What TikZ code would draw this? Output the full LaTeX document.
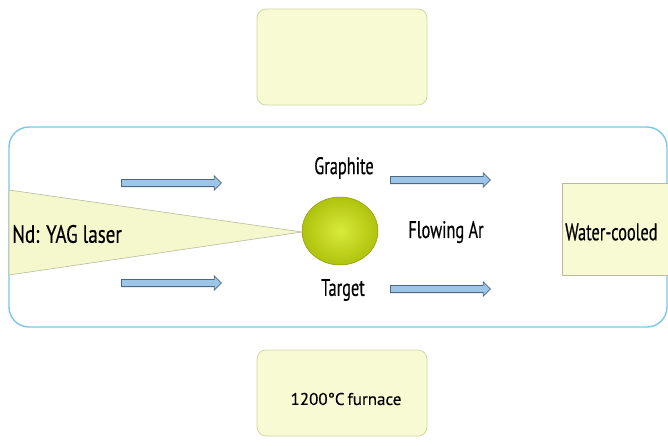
\documentclass[tikz,border=0pt]{standalone}
\usepackage{fontspec}
\setmainfont{PT Sans}
\newfontfamily\lblfont[FakeStretch=0.68,FakeBold=0.4]{PT Sans}
\newfontfamily\laserfont[FakeStretch=0.76,FakeBold=0.4]{PT Sans}
\newfontfamily\furnfont[FakeBold=0.3]{PT Sans}
\usetikzlibrary{shapes.geometric,shapes.arrows}
\definecolor{boxfill}{HTML}{F7FAD2}
\definecolor{boxedge}{HTML}{D2D8A2}
\definecolor{frameblue}{HTML}{7CC6EA}
\definecolor{arrowfill}{HTML}{9CC5E8}
\definecolor{arrowedge}{HTML}{4E6884}
\definecolor{beamfill}{HTML}{F5F8CD}
\definecolor{beamedge}{HTML}{B9BC9C}
\definecolor{ballin}{HTML}{D9EA3A}
\definecolor{ballout}{HTML}{AFC20C}
\tikzset{
  panel/.style={draw=boxedge, line width=0.8pt, fill=boxfill, rounded corners=9pt},
  flowarrow/.style={single arrow, draw=arrowedge, fill=arrowfill, line width=0.8pt,
    inner sep=3.2pt, text width=0pt, text height=0pt, text depth=0pt,
    single arrow head extend=3.5pt, minimum height=100pt, anchor=west},
  lbl/.style={font=\lblfont\fontsize{24}{27}\selectfont, inner sep=0pt},
  laserlbl/.style={font=\laserfont\fontsize{25}{28}\selectfont, inner sep=0pt},
  small/.style={font=\furnfont\fontsize{17}{20}\selectfont, inner sep=0pt}
}
\begin{document}
\begin{tikzpicture}[x=1pt,y=-1pt]
\path[use as bounding box] (0,0) rectangle (668,445);
\clip (0,0) rectangle (668,445);
% top empty box
\node[panel, minimum width=170pt, minimum height=96pt] (topbox) at (342,57) {};
% furnace box
\node[panel, minimum width=170pt, minimum height=86pt] (furnace) at (342,393) {};
\node[small] (furntext) at (346,399) {1200°C\,furnace};
% main tube
\draw[frameblue, line width=1.4pt, fill=white, rounded corners=20pt] (9,127) rectangle (667,327);
% laser beam
\coordinate (beamTop) at (9,190);
\coordinate (beamBot) at (9,275);
\coordinate (apex) at (302,232);
\draw[beamedge, line width=0.6pt, fill=beamfill] (beamTop) -- (apex) -- (beamBot) -- cycle;
\node[ellipse, minimum width=76pt, minimum height=68pt, draw=ballout!80!black, line width=0.5pt,
  inner color=ballin, outer color=ballout] (target) at (340,231) {};
\node[laserlbl, anchor=west] (laser) at (12,234) {Nd: YAG laser};
% flow arrows
\node[flowarrow] (a1) at (121,183) {};
\node[flowarrow] (a2) at (121,283) {};
\node[flowarrow] (a3) at (390,180) {};
\node[flowarrow] (a4) at (390,289) {};
% labels
\node[lbl] (graphite) at (344,168) {Graphite};
\node[lbl] (targettext) at (343,290) {Target};
\node[lbl] (flowing) at (446,232) {Flowing Ar};
% water cooled
\node[draw=beamedge, line width=0.8pt, fill=boxfill, minimum width=112pt, minimum height=92pt, anchor=west] (water) at (562,229) {};
\node[lbl, anchor=west] (watertext) at (565,232) {Water-cooled};
\end{tikzpicture}
\end{document}
